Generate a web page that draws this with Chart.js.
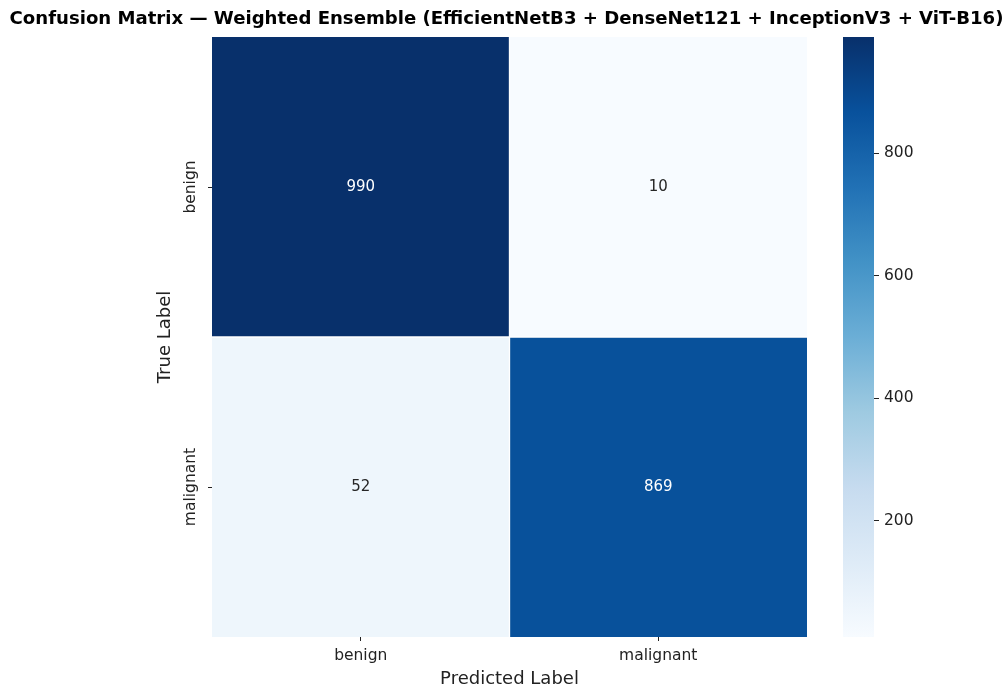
<!DOCTYPE html>
<html>
<head>
<meta charset="utf-8">
<title>Confusion Matrix — Weighted Ensemble</title>
<script src="https://cdn.jsdelivr.net/npm/chart.js@4.4.1/dist/chart.umd.min.js"></script>
<style>
  html, body { margin: 0; padding: 0; background: #ffffff; }
  #wrap { position: relative; width: 1008px; height: 690px; }
  #wrap canvas { position: absolute; left: 0; top: 0; }
</style>
</head>
<body>
<div id="wrap">
  <canvas id="heat" width="1008" height="690"></canvas>
  <canvas id="bar" width="1008" height="690"></canvas>
</div>
<script>
// Class names (rows = true label, columns = predicted label)
const trueLabels = ['benign', 'malignant'];
const predictedLabels = ['benign', 'malignant'];

// Counts per true-label row, in predicted-label order
const benignRow = [990, 10];
const malignantRow = [52, 869];

// Colour bar tick values
const colorbarTicks = [200, 400, 600, 800];

// "Blues" sequential colour map anchors (light -> dark)
const bluesStops = ['#f7fbff', '#deebf7', '#c6dbef', '#9ecae1', '#6baed6',
                    '#4292c6', '#2171b5', '#08519c', '#08306b'];

const rows = [benignRow, malignantRow];
const allCounts = rows.flat();
const vmin = Math.min(...allCounts);
const vmax = Math.max(...allCounts);

const FONT = 'DejaVu Sans';
const TEXT = '#222222';

function hexToRgb(h) {
  return [parseInt(h.slice(1, 3), 16), parseInt(h.slice(3, 5), 16), parseInt(h.slice(5, 7), 16)];
}
function bluesAt(v) {
  let t = (v - vmin) / (vmax - vmin);
  t = Math.max(0, Math.min(1, t));
  const pos = t * (bluesStops.length - 1);
  const i = Math.min(Math.floor(pos), bluesStops.length - 2);
  const f = pos - i;
  const a = hexToRgb(bluesStops[i]), b = hexToRgb(bluesStops[i + 1]);
  const c = a.map((x, k) => Math.round(x + (b[k] - x) * f));
  return 'rgb(' + c.join(',') + ')';
}
function luminance(rgbStr) {
  const c = rgbStr.match(/\d+/g).map(Number).map(x => {
    x /= 255;
    return x <= 0.03928 ? x / 12.92 : Math.pow((x + 0.055) / 1.055, 2.4);
  });
  return 0.2126 * c[0] + 0.7152 * c[1] + 0.0722 * c[2];
}

// One floating-bar dataset per true-label row; each bar spans one row band
const nRows = trueLabels.length;
const heatDatasets = rows.map((row, r) => {
  const lo = nRows - 1 - r;
  return {
    label: trueLabels[r],
    counts: row,
    data: row.map(() => [lo, lo + 1]),
    backgroundColor: row.map(v => bluesAt(v)),
    borderColor: '#ffffff',
    borderSkipped: false,
    borderWidth: (ctx) => ({
      left: ctx.dataIndex > 0 ? 1 : 0,
      right: ctx.dataIndex < predictedLabels.length - 1 ? 1 : 0,
      top: r > 0 ? 1 : 0,
      bottom: r < nRows - 1 ? 1 : 0
    }),
    grouped: false,
    barPercentage: 1,
    categoryPercentage: 1,
    xAxisID: 'x',
    yAxisID: 'y'
  };
});

// Writes each cell's count at the centre of its bar
const cellValues = {
  id: 'cellValues',
  afterDatasetsDraw(chart) {
    const ctx = chart.ctx;
    ctx.save();
    ctx.font = '15px "' + FONT + '"';
    ctx.textAlign = 'center';
    ctx.textBaseline = 'middle';
    chart.data.datasets.forEach((ds, i) => {
      chart.getDatasetMeta(i).data.forEach((el, j) => {
        const p = el.getProps(['x', 'y', 'base'], true);
        const v = ds.counts[j];
        ctx.fillStyle = luminance(bluesAt(v)) > 0.408 ? '#262626' : '#ffffff';
        ctx.fillText(String(v), p.x, (p.y + p.base) / 2);
      });
    });
    ctx.restore();
  }
};

const tickFont = { family: FONT, size: 15.5 };
const labelFont = { family: FONT, size: 18 };

new Chart(document.getElementById('heat'), {
  type: 'bar',
  data: { labels: predictedLabels, datasets: heatDatasets },
  options: {
    responsive: false,
    animation: false,
    events: [],
    layout: { padding: { left: 5, right: 0, top: 0, bottom: 0 } },
    plugins: {
      legend: { display: false },
      tooltip: { enabled: false },
      title: {
        display: true,
        text: 'Confusion Matrix — Weighted Ensemble (EfficientNetB3 + DenseNet121 + InceptionV3 + ViT-B16)',
        color: '#000000',
        font: { family: FONT, size: 18.1, weight: 'bold' },
        padding: { top: 8.6, bottom: 6.7 }
      }
    },
    scales: {
      x: {
        type: 'category',
        position: 'bottom',
        offset: true,
        grid: { display: true, drawOnChartArea: false, drawTicks: true, tickLength: 4, offset: false, color: TEXT },
        border: { display: false },
        ticks: { color: TEXT, font: tickFont, padding: 6, maxRotation: 0 },
        title: { display: true, text: 'Predicted Label', color: TEXT, font: labelFont, padding: { top: 0, bottom: 0 } },
        afterFit: (s) => { s.height = 53; }
      },
      y: {
        type: 'linear',
        position: 'left',
        min: 0,
        max: nRows,
        afterBuildTicks: (s) => {
          s.ticks = trueLabels.map((_, r) => ({ value: nRows - 1 - r + 0.5 })).sort((a, b) => a.value - b.value);
        },
        grid: { display: true, drawOnChartArea: false, drawTicks: true, tickLength: 4, color: TEXT },
        border: { display: false },
        ticks: {
          color: TEXT, font: tickFont,
          minRotation: 90, maxRotation: 90,
          crossAlign: 'center', padding: -22,
          callback: (v) => trueLabels[nRows - 1 - Math.floor(v)]
        },
        title: { display: true, text: 'True Label', color: TEXT, font: labelFont, padding: { top: 150, bottom: 0 } },
        afterFit: (s) => { s.width = 207; }
      },
      yGap: {
        type: 'linear',
        position: 'right',
        display: true,
        grid: { display: false },
        border: { display: false },
        ticks: { display: false },
        afterFit: (s) => { s.width = 201; }
      }
    }
  },
  plugins: [cellValues]
});

// Colour bar: one floating bar spanning the value range, filled with the colour map
new Chart(document.getElementById('bar'), {
  type: 'bar',
  data: {
    labels: ['count'],
    datasets: [{
      data: [[vmin, vmax]],
      borderWidth: 0,
      barPercentage: 1,
      categoryPercentage: 1,
      backgroundColor: (ctx) => {
        const chart = ctx.chart;
        if (!chart.chartArea) return bluesStops[4];
        const ys = chart.scales.y;
        const g = chart.ctx.createLinearGradient(0, ys.getPixelForValue(vmin), 0, ys.getPixelForValue(vmax));
        bluesStops.forEach((c, i) => g.addColorStop(i / (bluesStops.length - 1), c));
        return g;
      }
    }]
  },
  options: {
    responsive: false,
    animation: false,
    events: [],
    layout: { padding: { left: 843, right: 74, top: 37, bottom: 53 } },
    plugins: { legend: { display: false }, tooltip: { enabled: false }, title: { display: false } },
    scales: {
      x: { type: 'category', display: false, offset: true },
      y: {
        type: 'linear',
        position: 'right',
        min: vmin,
        max: vmax,
        afterBuildTicks: (s) => { s.ticks = colorbarTicks.map(v => ({ value: v })); },
        grid: { display: true, drawOnChartArea: false, drawTicks: true, tickLength: 5, color: TEXT },
        border: { display: false },
        ticks: { color: TEXT, font: tickFont, padding: 5 },
        afterFit: (s) => { s.width = 60; }
      }
    }
  }
});
</script>
</body>
</html>
